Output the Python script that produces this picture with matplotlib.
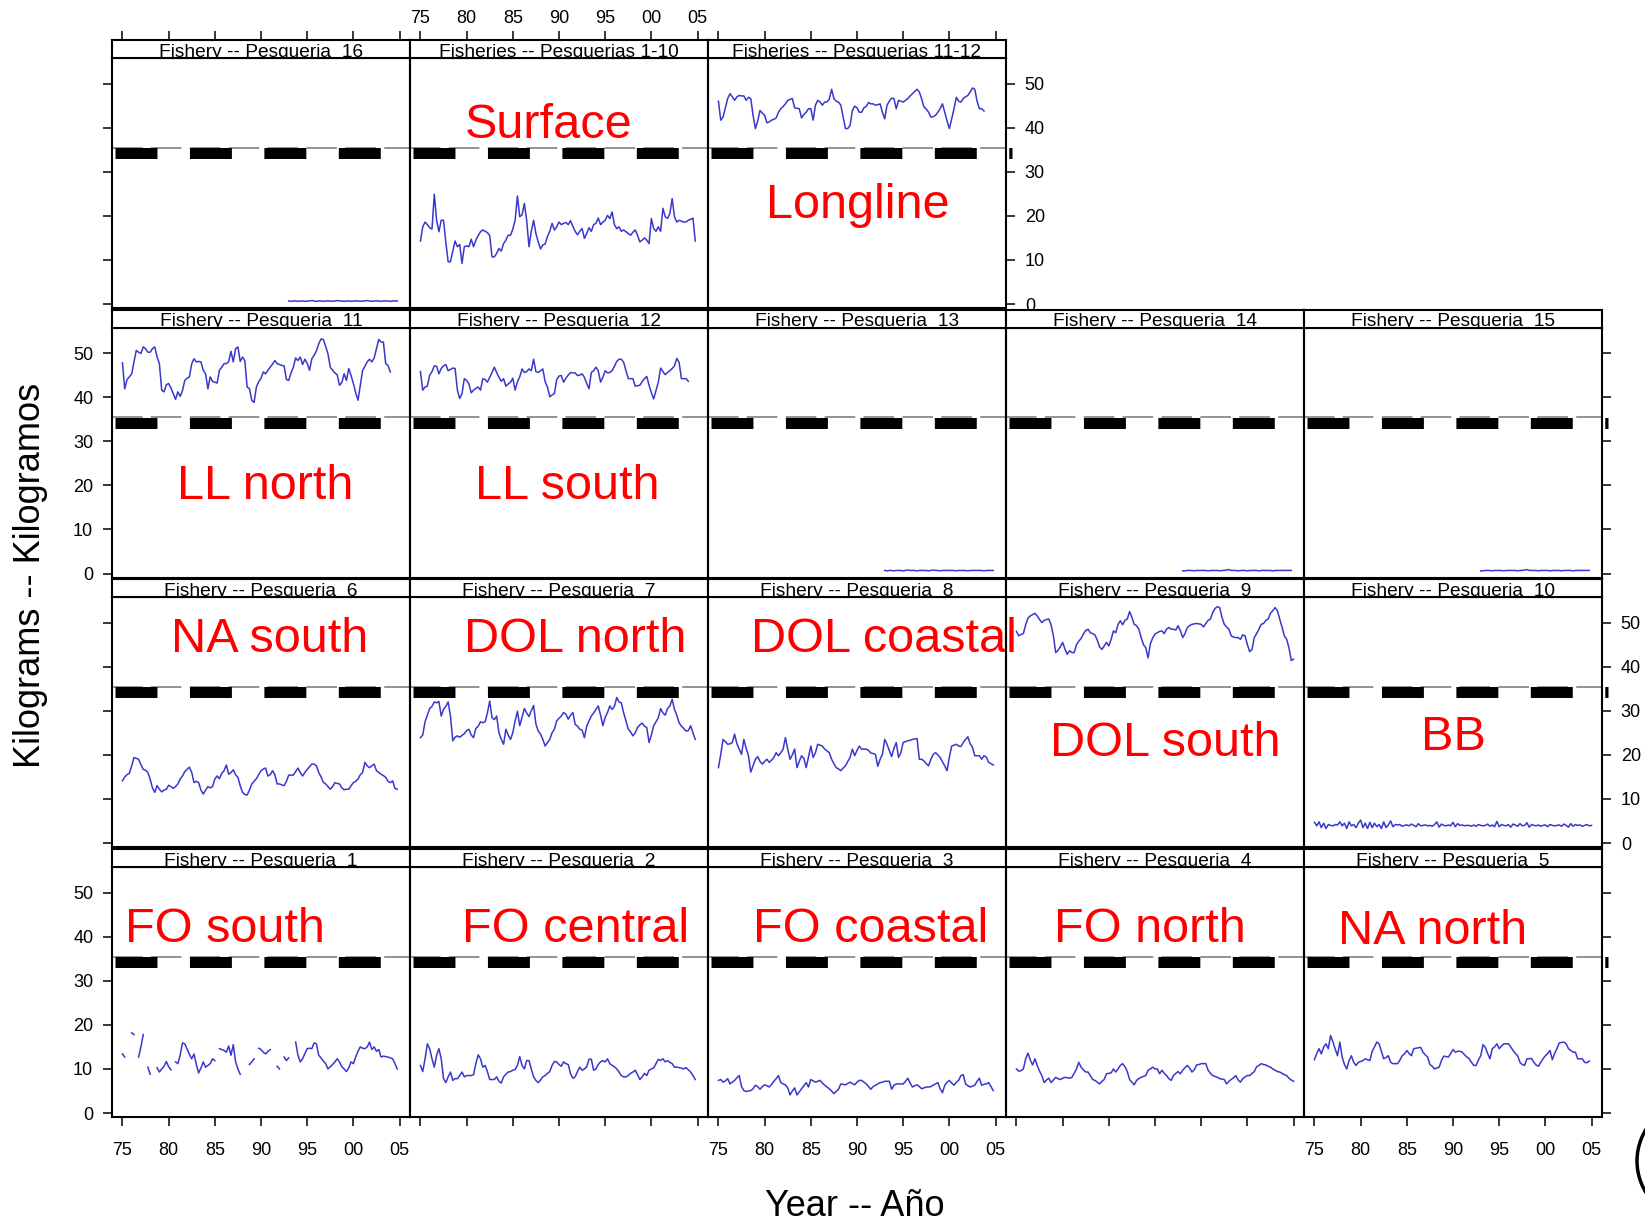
import numpy as np
import matplotlib
matplotlib.use("Agg")
import matplotlib.pyplot as plt
from matplotlib.patches import Circle

plt.rcParams['font.family'] = ['Liberation Sans', 'DejaVu Sans']
plt.rcParams['lines.scale_dashes'] = False

nan = np.nan

# quarterly mean weight of the catch (kg); series start in 1975 Q1 unless noted
surface_1_10 = [
    14.3, 17.5, 18.6, 18.0, 17.3, 17.0, 24.9, 19.0,
    16.4, 19.0, 19.0, 14.0, 9.6, 9.6, 12.0, 14.3,
    13.0, 13.5, 9.2, 13.0, 13.2, 13.0, 14.7, 13.0,
    14.5, 15.5, 16.4, 16.8, 16.5, 16.2, 15.5, 10.7,
    10.7, 11.5, 12.6, 12.0, 13.7, 14.5, 15.6, 15.6,
    17.0, 19.0, 24.5, 19.8, 20.2, 22.8, 19.0, 13.0,
    16.5, 19.0, 16.0, 14.1, 12.5, 13.4, 13.6, 15.3,
    16.5, 18.3, 16.8, 17.5, 18.6, 18.0, 18.3, 18.5,
    18.0, 18.9, 17.6, 16.5, 15.7, 16.5, 17.1, 14.9,
    16.0, 17.3, 16.5, 18.0, 18.3, 19.5, 18.0, 18.6,
    19.0, 20.1, 19.4, 20.9, 18.0, 17.1, 17.5, 16.5,
    16.8, 16.4, 16.0, 15.6, 16.3, 16.8, 15.6, 14.1,
    14.5, 15.0, 14.5, 13.7, 19.4, 17.1, 16.5, 17.5,
    16.5, 21.7, 19.8, 19.4, 20.5, 23.9, 19.8, 18.6,
    19.0, 18.8, 18.6, 18.6, 19.0, 19.2, 19.5, 14.3,
]
longline_11_12 = [
    46.0, 41.7, 42.4, 44.5, 46.6, 47.7, 47.0, 46.2,
    47.0, 47.3, 47.2, 47.2, 46.2, 46.9, 46.6, 42.8,
    39.8, 41.5, 43.9, 43.3, 42.8, 41.1, 41.3, 41.7,
    41.9, 42.2, 43.5, 44.3, 44.8, 45.4, 46.2, 46.4,
    46.6, 44.5, 44.4, 44.3, 42.2, 43.0, 43.5, 44.3,
    44.3, 41.7, 45.1, 46.2, 45.8, 45.1, 45.8, 45.8,
    46.5, 48.7, 46.6, 46.0, 45.8, 45.1, 42.4, 39.8,
    39.8, 40.5, 43.9, 44.9, 44.5, 43.5, 43.5, 44.5,
    44.8, 45.7, 45.4, 45.4, 45.1, 45.2, 45.4, 43.5,
    42.0, 45.1, 46.0, 46.7, 46.6, 44.3, 46.2, 46.0,
    45.8, 46.2, 46.6, 47.2, 47.7, 48.2, 48.7, 48.1,
    46.5, 44.7, 44.2, 43.5, 42.4, 42.5, 42.8, 43.5,
    44.3, 45.4, 43.5, 41.5, 39.8, 42.0, 44.3, 46.9,
    46.0, 45.8, 46.6, 47.0, 47.3, 48.1, 49.0, 48.7,
    46.0, 44.3, 44.3, 43.8,
]
p11 = [
    47.8, 41.9, 44.0, 44.6, 45.3, 48.0, 50.6, 50.2,
    49.9, 51.4, 51.0, 50.2, 50.2, 51.0, 51.4, 49.1,
    47.6, 41.6, 41.2, 42.8, 43.1, 42.1, 40.8, 39.5,
    41.2, 40.2, 41.5, 43.8, 44.3, 44.6, 47.6, 48.7,
    48.0, 48.1, 48.0, 46.1, 45.3, 41.9, 44.6, 43.6,
    43.4, 43.2, 46.1, 46.8, 47.6, 47.6, 48.1, 50.4,
    48.0, 51.0, 51.4, 48.1, 49.1, 48.3, 42.3, 41.9,
    39.3, 38.8, 42.3, 43.5, 44.3, 45.7, 45.3, 46.1,
    46.8, 47.5, 48.3, 47.6, 47.4, 47.2, 47.1, 44.0,
    43.8, 45.5, 46.8, 48.9, 48.3, 49.1, 47.4, 48.6,
    47.7, 46.1, 48.7, 49.5, 50.5, 52.1, 53.2, 53.1,
    51.5, 49.8, 46.8, 46.1, 45.5, 45.1, 42.7, 43.3,
    45.3, 43.8, 46.5, 44.9, 43.1, 41.0, 39.3, 42.7,
    46.1, 47.0, 48.0, 48.6, 48.0, 48.9, 51.0, 53.1,
    52.5, 52.5, 47.6, 47.2, 45.7,
]
p12 = [
    45.8, 41.6, 42.3, 42.5, 45.0, 45.8, 47.1, 47.0,
    45.3, 46.5, 47.1, 47.4, 46.0, 46.3, 46.6, 46.5,
    41.6, 39.7, 40.8, 44.2, 43.8, 43.0, 41.0, 41.6,
    42.0, 42.3, 41.6, 44.2, 44.0, 43.4, 44.5, 45.6,
    46.8, 45.6, 44.5, 43.6, 44.2, 42.5, 43.0, 43.4,
    44.3, 41.6, 43.5, 44.6, 46.4, 45.6, 45.8, 46.4,
    46.0, 48.6, 45.8, 45.6, 46.0, 46.4, 43.5, 42.3,
    40.1, 40.5, 40.8, 44.0, 44.8, 44.9, 43.4, 44.3,
    45.0, 45.6, 45.5, 45.5, 44.9, 45.0, 45.3, 44.5,
    43.1, 41.9, 45.6, 46.0, 46.8, 46.0, 43.4, 44.5,
    46.0, 45.5, 45.6, 46.0, 47.0, 48.1, 48.6, 48.6,
    47.9, 46.0, 44.2, 44.2, 44.2, 42.5, 42.6, 42.7,
    43.5, 44.2, 44.7, 42.7, 41.0, 39.6, 41.5, 43.4,
    46.6, 45.8, 45.1, 45.6, 46.0, 46.5, 47.1, 48.8,
    47.9, 44.2, 44.2, 44.2, 43.6,
]
# the small longline fisheries 13-16 only start in 1993
p13 = [0.7, 0.6, 0.7, 0.7, 0.6, 0.7, 0.7, 0.7, 0.6, 0.7, 0.8, 0.7,
       0.7, 0.7, 0.6, 0.7, 0.7, 0.7, 0.7, 0.6, 0.7, 0.8, 0.7, 0.7,
       0.6, 0.7, 0.7, 0.7, 0.7, 0.7, 0.7, 0.6, 0.7, 0.7, 0.7, 0.7,
       0.6, 0.7, 0.7, 0.7, 0.7, 0.7, 0.7, 0.6, 0.7, 0.7, 0.7, 0.7]
p14 = [0.6, 0.6, 0.7, 0.7, 0.7, 0.6, 0.7, 0.7, 0.7, 0.7, 0.7, 0.6,
       0.7, 0.7, 0.7, 0.7, 0.6, 0.7, 0.7, 0.8, 0.9, 0.7, 0.7, 0.7,
       0.6, 0.7, 0.7, 0.7, 0.6, 0.7, 0.7, 0.7, 0.7, 0.6, 0.7, 0.7,
       0.7, 0.7, 0.7, 0.6, 0.7, 0.7, 0.7, 0.7, 0.7, 0.7, 0.7, 0.7]
p15 = [0.6, 0.6, 0.7, 0.7, 0.7, 0.6, 0.7, 0.7, 0.7, 0.7, 0.6, 0.7,
       0.7, 0.7, 0.7, 0.7, 0.6, 0.7, 0.7, 0.8, 0.9, 0.7, 0.7, 0.7,
       0.7, 0.6, 0.7, 0.7, 0.7, 0.7, 0.6, 0.7, 0.7, 0.7, 0.7, 0.6,
       0.7, 0.7, 0.7, 0.7, 0.6, 0.7, 0.7, 0.7, 0.7, 0.7, 0.7, 0.7]
p16 = [0.7, 0.6, 0.7, 0.7, 0.6, 0.7, 0.7, 0.6, 0.7, 0.7, 0.8, 0.7,
       0.6, 0.7, 0.7, 0.6, 0.7, 0.7, 0.7, 0.6, 0.7, 0.8, 0.7, 0.7,
       0.6, 0.7, 0.7, 0.6, 0.7, 0.7, 0.7, 0.6, 0.7, 0.7, 0.8, 0.7,
       0.6, 0.7, 0.7, 0.7, 0.6, 0.7, 0.7, 0.7, 0.6, 0.7, 0.7, 0.7]
p6 = [
    14.1, 15.0, 15.5, 15.8, 17.5, 19.4, 19.2, 19.0,
    17.8, 16.7, 16.5, 16.0, 14.5, 12.5, 11.5, 13.0,
    12.2, 11.6, 12.0, 12.2, 13.1, 12.8, 12.4, 12.8,
    13.4, 14.5, 15.2, 16.2, 16.7, 17.2, 16.0, 13.7,
    14.0, 13.7, 12.0, 11.1, 12.0, 12.8, 12.5, 12.8,
    14.5, 15.2, 14.6, 15.8, 16.4, 17.7, 15.6, 16.0,
    16.6, 15.5, 14.9, 13.0, 11.5, 11.0, 10.9, 12.0,
    13.4, 14.0, 14.6, 15.5, 16.4, 16.8, 17.0, 15.2,
    15.5, 16.4, 15.5, 13.4, 13.4, 13.2, 13.0, 14.0,
    15.4, 15.4, 15.4, 16.2, 17.0, 16.0, 15.2, 16.0,
    16.7, 17.3, 17.9, 17.9, 17.5, 16.0, 15.0, 13.8,
    13.4, 12.8, 12.2, 12.8, 13.7, 13.5, 13.4, 12.5,
    12.1, 12.2, 12.2, 13.0, 13.7, 14.0, 14.5, 15.5,
    16.0, 18.3, 17.5, 17.1, 17.5, 17.9, 16.4, 16.0,
    15.6, 15.3, 14.9, 14.0, 13.7, 14.1, 12.4, 12.2,
]
p7 = [
    23.9, 24.5, 27.5, 29.0, 30.5, 31.0, 32.0, 31.8,
    32.1, 28.8, 30.3, 31.0, 32.0, 28.8, 23.2, 24.0,
    24.3, 24.0, 24.4, 24.8, 25.5, 25.8, 24.5, 23.9,
    26.0, 26.5, 27.5, 27.3, 27.5, 29.5, 32.2, 28.4,
    28.0, 28.8, 25.0, 23.5, 22.4, 25.8, 24.5, 23.5,
    25.0, 27.7, 29.9, 26.6, 28.5, 30.5, 29.5, 28.7,
    30.0, 31.2, 27.0, 25.4, 24.7, 23.5, 22.0, 22.8,
    23.5, 25.0, 25.8, 27.7, 28.3, 28.8, 29.6, 29.2,
    28.1, 29.0, 29.6, 26.9, 26.5, 25.8, 25.6, 23.9,
    26.5, 27.7, 28.8, 29.5, 30.3, 31.1, 29.0, 26.6,
    28.5, 29.6, 31.1, 30.3, 31.0, 33.0, 32.0, 31.8,
    29.5, 27.7, 25.8, 25.2, 24.3, 25.0, 26.2, 26.8,
    27.2, 26.5, 26.2, 22.8, 24.5, 26.6, 27.5, 28.4,
    30.5, 29.5, 29.0, 30.5, 31.1, 32.6, 30.3, 29.0,
    27.3, 26.5, 26.0, 25.4, 25.5, 26.6, 25.0, 23.5,
]
p8 = [
    17.1, 20.1, 23.5, 23.0, 22.4, 22.5, 22.8, 24.7,
    22.5, 21.3, 20.1, 23.5, 21.5, 19.8, 16.1, 17.5,
    19.0, 19.6, 18.5, 17.9, 18.5, 19.0, 18.3, 18.8,
    19.4, 20.5, 19.8, 20.5, 21.3, 23.9, 21.3, 19.0,
    20.0, 21.3, 17.1, 18.5, 19.8, 19.2, 17.1, 19.5,
    22.0, 19.4, 20.5, 22.4, 22.2, 22.0, 21.3, 20.9,
    20.5, 19.0, 18.0, 17.1, 16.8, 16.4, 17.0, 17.5,
    18.5, 19.4, 21.3, 19.8, 21.0, 22.0, 21.3, 21.3,
    21.3, 21.0, 20.4, 20.3, 20.1, 17.4, 19.0, 20.1,
    23.5, 22.4, 21.0, 19.6, 21.5, 22.8, 19.4, 20.5,
    22.8, 23.0, 23.2, 23.3, 23.5, 23.6, 23.7, 19.0,
    19.0, 18.6, 18.0, 17.5, 19.0, 20.1, 20.5, 20.0,
    19.4, 18.4, 17.5, 16.4, 19.5, 22.0, 22.2, 22.4,
    22.0, 21.9, 22.8, 23.5, 24.1, 22.5, 21.7, 19.8,
    19.8, 19.8, 19.0, 19.8, 19.5, 18.3, 18.0, 17.7,
]
p9 = [
    48.0, 47.0, 47.3, 47.5, 49.5, 51.0, 51.5, 51.8,
    52.1, 51.5, 50.7, 50.0, 50.5, 50.7, 50.8, 49.5,
    47.0, 43.2, 43.7, 44.5, 45.5, 44.0, 42.8, 43.6,
    43.2, 43.2, 45.0, 45.8, 46.4, 47.4, 48.2, 48.5,
    47.7, 47.5, 47.2, 46.0, 44.5, 43.9, 44.7, 45.5,
    44.7, 46.2, 48.1, 47.7, 49.6, 50.4, 49.5, 50.5,
    50.8, 52.5, 51.2, 49.6, 49.3, 48.5, 46.6, 45.0,
    44.3, 42.0, 45.2, 46.5, 47.4, 47.7, 48.0, 48.1,
    47.5, 48.5, 48.9, 48.5, 48.5, 48.3, 49.3, 48.1,
    46.6, 47.5, 48.9, 49.3, 49.6, 49.7, 49.8, 49.7,
    49.6, 49.0, 49.8, 50.5, 50.8, 52.3, 53.2, 53.6,
    53.4, 51.2, 49.6, 49.0, 48.5, 47.0, 46.7, 46.6,
    46.6, 46.2, 47.2, 47.0, 45.0, 43.4, 43.9, 46.6,
    47.5, 48.5, 49.6, 49.8, 50.5, 50.8, 52.1, 52.7,
    53.4, 52.7, 50.8, 49.0, 47.0, 46.2, 44.3, 41.4,
    41.7,
]
p10 = [
    4.7, 3.9, 4.8, 3.5, 4.5, 3.3, 4.2, 4.0,
    3.9, 4.2, 4.1, 4.8, 3.9, 4.5, 3.3, 4.8,
    3.9, 4.2, 3.5, 4.5, 5.2, 3.5, 4.5, 3.3,
    4.7, 3.5, 4.5, 3.7, 4.2, 3.3, 4.8, 3.5,
    4.1, 5.0, 3.7, 4.2, 4.1, 4.2, 3.8, 4.0,
    4.1, 3.9, 4.3, 4.0, 3.7, 4.4, 3.9, 4.0,
    4.1, 3.9, 4.0, 3.8, 4.2, 4.8, 3.6, 4.3,
    4.0, 3.9, 4.1, 3.9, 4.7, 3.7, 4.4, 4.0,
    4.1, 3.9, 4.0, 4.0, 3.8, 4.1, 3.8, 4.2,
    4.0, 3.9, 4.0, 4.3, 3.8, 4.1, 3.7, 4.9,
    3.7, 4.2, 4.0, 3.9, 4.2, 3.6, 4.3, 4.1,
    3.8, 4.4, 3.9, 4.0, 4.6, 3.6, 4.2, 4.0,
    3.9, 4.1, 3.8, 4.0, 4.1, 3.7, 4.2, 4.0,
    3.9, 4.0, 4.1, 3.8, 4.3, 4.0, 3.6, 4.4,
    3.8, 4.2, 4.0, 4.1, 3.8, 4.0, 4.2, 3.9,
    4.0,
]
# quarters without samples are left as gaps
p1 = [
    13.4, 12.7, nan, nan, 18.2, 17.8, nan, 12.7,
    15.0, 17.8, nan, 10.4, 8.8, nan, nan, 10.3,
    9.3, 10.0, 10.6, 11.7, 10.5, 9.8, nan, 11.6,
    11.2, 13.1, 15.9, 15.7, 14.5, 13.3, 12.3, 13.4,
    11.0, 9.1, 10.2, 11.6, 10.4, 10.8, 11.2, 12.3,
    11.9, nan, 14.6, 14.4, 14.2, 13.8, 15.2, 13.1,
    15.5, 11.6, 10.0, 8.8, nan, nan, nan, 11.0,
    11.6, 12.3, nan, 14.7, 14.4, 13.8, 13.4, 14.0,
    14.4, nan, nan, 10.6, 10.0, nan, 12.7, 11.9,
    12.5, nan, nan, 16.1, 13.1, 11.6, 12.3, 13.5,
    14.6, 14.7, 14.6, 15.9, 15.7, 13.1, 12.5, 11.8,
    11.2, 10.0, 10.5, 11.0, 11.6, 12.3, 11.6, 10.5,
    10.0, 9.4, 10.2, 11.6, 11.2, 12.7, 14.0, 15.0,
    14.7, 14.6, 15.0, 16.1, 14.4, 15.0, 14.0, 14.4,
    12.7, 12.9, 12.8, 12.7, 12.5, 12.3, 11.2, 10.0,
]
p2 = [
    10.8, 9.4, 12.3, 15.7, 14.6, 12.3, 10.4, 13.1,
    14.6, 12.3, 7.8, 6.9, 8.2, 9.3, 7.4, 7.8,
    7.8, 8.5, 9.3, 8.2, 8.5, 8.5, 8.5, 8.7,
    11.2, 13.2, 12.3, 10.4, 10.8, 9.4, 7.6, 7.6,
    7.6, 8.2, 7.2, 6.8, 8.2, 8.8, 9.3, 9.4,
    9.7, 9.9, 10.8, 12.8, 10.8, 10.0, 11.9, 11.9,
    10.0, 8.2, 7.4, 6.9, 7.5, 8.2, 8.5, 9.0,
    9.4, 10.8, 11.7, 11.6, 11.0, 10.6, 11.6, 11.2,
    11.0, 8.9, 7.9, 8.2, 9.4, 10.4, 9.7, 10.0,
    10.5, 12.2, 12.2, 9.7, 10.0, 11.0, 11.6, 11.9,
    11.6, 12.3, 11.2, 10.8, 10.5, 10.0, 9.3, 8.5,
    8.2, 8.2, 8.5, 9.0, 9.3, 9.7, 8.7, 7.6,
    8.2, 9.0, 8.5, 9.7, 10.0, 10.2, 11.2, 12.2,
    11.9, 12.3, 11.6, 11.9, 11.5, 11.2, 10.4, 10.4,
    10.3, 10.2, 10.0, 10.3, 9.8, 9.3, 8.5, 7.6,
]
p3 = [
    7.4, 7.6, 7.0, 7.3, 7.8, 6.6, 7.0, 7.4,
    8.0, 8.5, 6.0, 5.1, 4.9, 5.0, 5.1, 5.5,
    6.3, 6.0, 5.4, 6.0, 6.4, 6.2, 5.9, 6.5,
    7.2, 7.8, 8.5, 6.9, 6.6, 6.4, 5.7, 4.1,
    5.0, 5.7, 4.1, 4.8, 5.5, 6.2, 6.9, 5.9,
    7.6, 7.3, 7.0, 7.2, 7.4, 6.8, 6.3, 5.9,
    5.5, 5.0, 4.4, 4.9, 5.4, 6.6, 6.5, 6.4,
    6.7, 7.0, 6.7, 6.4, 7.0, 7.4, 7.4, 7.0,
    6.6, 6.0, 5.4, 6.0, 6.3, 6.6, 6.9, 7.0,
    7.2, 7.2, 7.2, 5.4, 6.3, 6.6, 6.6, 6.6,
    6.6, 7.2, 7.9, 6.8, 5.9, 6.2, 6.4, 6.0,
    5.5, 5.7, 5.9, 5.9, 6.0, 6.3, 6.6, 6.9,
    5.5, 4.6, 6.3, 7.0, 7.4, 6.8, 6.3, 7.0,
    7.4, 8.5, 8.7, 6.6, 6.2, 5.9, 6.1, 6.3,
    7.2, 7.9, 6.3, 6.5, 6.6, 6.9, 6.0, 5.1,
]
p4 = [
    10.0, 9.5, 9.6, 10.0, 12.3, 13.6, 12.0, 10.9,
    12.3, 10.8, 9.5, 8.5, 6.9, 7.5, 7.9, 6.9,
    7.5, 8.1, 7.8, 7.6, 7.9, 8.1, 8.0, 7.9,
    8.1, 9.0, 10.0, 11.5, 10.4, 9.8, 9.3, 9.3,
    8.5, 7.6, 7.4, 7.0, 6.6, 7.2, 7.6, 8.9,
    9.0, 9.1, 10.0, 9.3, 10.0, 10.8, 11.2, 10.5,
    9.4, 7.6, 7.0, 6.4, 7.4, 7.8, 8.1, 8.3,
    8.5, 9.7, 10.0, 10.4, 10.0, 10.0, 8.9, 9.7,
    9.0, 8.5, 7.8, 7.4, 8.5, 9.0, 9.4, 8.9,
    9.7, 10.3, 10.8, 10.2, 9.3, 9.8, 10.9, 11.0,
    11.2, 11.2, 11.2, 9.7, 9.0, 8.5, 8.3, 8.1,
    7.8, 7.7, 7.6, 6.6, 7.2, 7.6, 8.0, 8.5,
    7.5, 7.0, 7.8, 8.2, 8.5, 8.5, 9.0, 9.4,
    10.5, 10.8, 11.2, 11.0, 10.9, 10.6, 10.4, 10.0,
    9.7, 9.4, 9.3, 9.0, 8.7, 8.5, 7.9, 7.5,
    7.2,
]
p5 = [
    12.1, 13.5, 14.6, 13.4, 15.0, 15.7, 14.6, 17.6,
    16.1, 14.5, 13.0, 16.1, 12.7, 11.0, 10.0, 11.9,
    13.0, 11.5, 10.8, 11.5, 11.7, 11.9, 12.3, 12.1,
    11.9, 14.0, 15.0, 16.1, 15.7, 14.0, 12.3, 12.6,
    13.0, 11.5, 11.2, 11.2, 11.2, 12.0, 13.0, 13.4,
    14.2, 13.5, 13.0, 14.6, 14.7, 14.8, 14.9, 13.8,
    13.2, 12.7, 11.0, 10.6, 10.0, 10.2, 10.4, 11.9,
    12.9, 12.8, 12.7, 13.5, 14.4, 13.8, 14.0, 14.0,
    13.8, 13.2, 12.7, 12.3, 11.5, 10.8, 10.8, 12.0,
    13.0, 15.5, 14.9, 13.5, 12.3, 14.6, 15.0, 15.7,
    14.6, 15.2, 15.7, 15.7, 15.7, 15.0, 14.2, 13.5,
    13.0, 11.5, 11.0, 10.8, 12.3, 12.3, 12.4, 11.5,
    10.9, 10.6, 11.5, 12.3, 13.0, 13.5, 14.2, 12.1,
    13.5, 14.6, 15.9, 16.0, 16.1, 15.7, 14.6, 14.2,
    13.8, 13.8, 12.3, 12.3, 12.3, 11.5, 11.4, 11.8,
]

series = {
    '16': p16, '1-10': surface_1_10, '11-12': longline_11_12,
    '11': p11, '12': p12, '13': p13, '14': p14, '15': p15,
    '6': p6, '7': p7, '8': p8, '9': p9, '10': p10,
    '1': p1, '2': p2, '3': p3, '4': p4, '5': p5,
}
first_year = {'13': 1993.0, '14': 1993.0, '15': 1993.0, '16': 1993.0}

area_names = {
    '1-10': 'Surface', '11-12': 'Longline', '11': 'LL north', '12': 'LL south',
    '6': 'NA south', '7': 'DOL north', '8': 'DOL coastal', '9': 'DOL south',
    '10': 'BB', '1': 'FO south', '2': 'FO central', '3': 'FO coastal',
    '4': 'FO north', '5': 'NA north',
}
year_ticks = [1975, 1980, 1985, 1990, 1995, 2000, 2005]
year_labels = ['75', '80', '85', '90', '95', '00', '05']
kg_ticks = [0, 10, 20, 30, 40, 50]
reference_kg = 35.5

# trellis layout: (fishery, row, column)
layout = [
    ('16', 0, 0), ('1-10', 0, 1), ('11-12', 0, 2),
    ('11', 1, 0), ('12', 1, 1), ('13', 1, 2), ('14', 1, 3), ('15', 1, 4),
    ('6', 2, 0), ('7', 2, 1), ('8', 2, 2), ('9', 2, 3), ('10', 2, 4),
    ('1', 3, 0), ('2', 3, 1), ('3', 3, 2), ('4', 3, 3), ('5', 3, 4),
]
# where the area name sits in each panel (year, kg at the baseline)
name_pos = {
    '1-10': (1988.9, 37.6), '11-12': (1990.1, 19.5),
    '11': (1990.4, 16.9), '12': (1990.9, 16.9),
    '6': (1990.9, 43.3), '7': (1991.8, 43.3), '8': (1992.9, 43.3),
    '9': (1991.1, 19.7), '10': (1990.1, 21.2),
    '1': (1986.05, 38.9), '2': (1991.8, 38.9), '3': (1991.5, 38.9),
    '4': (1989.4, 38.9), '5': (1987.8, 38.4),
}

W, H = 1645, 1225
col_x = [112, 410, 708, 1006, 1304]
row_top = [58, 327.5, 597, 867]
PW, PH, SH = 298, 250, 18
XLIM = (1973.87, 2006.13)
YLIM = (-0.9, 55.8)
BLUE = '#3838cc'


def px_rect(left, top, w, h):
    return [left / W, 1 - (top + h) / H, w / W, h / H]


def strip_title(key):
    if '-' in key:
        return 'Fisheries -- Pesquerias ' + key
    return 'Fishery -- Pesqueria  ' + key


fig = plt.figure(figsize=(W / 100, H / 100), dpi=100)

for key, r, c in layout:
    rightmost = c == (2 if r == 0 else 4)

    ax = fig.add_axes(px_rect(col_x[c], row_top[r], PW, PH))
    ax.set_facecolor('none')
    ax.set_xlim(XLIM)
    ax.set_ylim(YLIM)

    vals = np.array(series[key], dtype=float)
    t = first_year.get(key, 1975.0) + 0.25 * np.arange(len(vals))
    ax.plot(t, vals, color=BLUE, lw=1.1)

    # reference weight: thin grey dashes with heavy black blocks under them
    ax.plot(XLIM, [reference_kg, reference_kg], color='#808080', lw=1.2,
            dashes=(22, 6))
    ax.plot([XLIM[0] + 0.33, XLIM[1] + (0.7 if rightmost else 0)],
            [reference_kg - 1.25] * 2, color='black', lw=7.9,
            dashes=(30.2, 23.4), clip_on=not rightmost)

    if key in area_names:
        nx, ny = name_pos[key]
        ax.text(nx, ny, area_names[key], color='#ff0000', fontsize=35,
                ha='center', va='baseline', clip_on=False, zorder=5)

    ax.set_xticks(year_ticks)
    ax.set_xticklabels(year_labels)
    ax.set_yticks(kg_ticks)
    ax.tick_params(direction='out', length=6.5, width=1.1, labelsize=13,
                   colors='black', pad=7,
                   left=False, right=False, top=False, bottom=False,
                   labelleft=False, labelright=False,
                   labeltop=False, labelbottom=False)
    if c == 0:
        ax.tick_params(axis='y', left=True, labelleft=(r % 2 == 1))
    if rightmost:
        ax.tick_params(axis='y', right=True, labelright=(r % 2 == 0))
    if r == 3:
        ax.tick_params(axis='x', bottom=True, labelbottom=(c % 2 == 0), pad=11.8)
    for sp in ax.spines.values():
        sp.set_linewidth(1.5)

    sax = fig.add_axes(px_rect(col_x[c], row_top[r] - SH, PW, SH))
    sax.set_xlim(XLIM)
    sax.set_yticks([])
    sax.text(0.5, 0.06, strip_title(key), transform=sax.transAxes,
             ha='center', va='baseline', fontsize=13.8, clip_on=True)
    if r == 0:
        sax.set_xticks(year_ticks)
        sax.set_xticklabels(year_labels)
        sax.tick_params(axis='x', direction='out', length=6.5, width=1.1,
                        labelsize=13, pad=3.2, top=True, bottom=False,
                        labeltop=(c == 1), labelbottom=False)
    else:
        sax.set_xticks([])
    for sp in sax.spines.values():
        sp.set_linewidth(1.5)

fig.text(855 / W, 1 - 1207 / H, 'Year -- Año', ha='center', va='center',
         fontsize=26)
fig.text(31 / W, 1 - 575 / H, 'Kilograms -- Kilogramos', rotation=90,
         ha='center', va='center', fontsize=26)

# edge of the round button peeking in at the lower right
fig.add_artist(Circle((16.97, 0.64), 0.60, transform=fig.dpi_scale_trans,
                      fill=False, lw=2.5, ec='black'))

fig.savefig('out.png', dpi=100)
